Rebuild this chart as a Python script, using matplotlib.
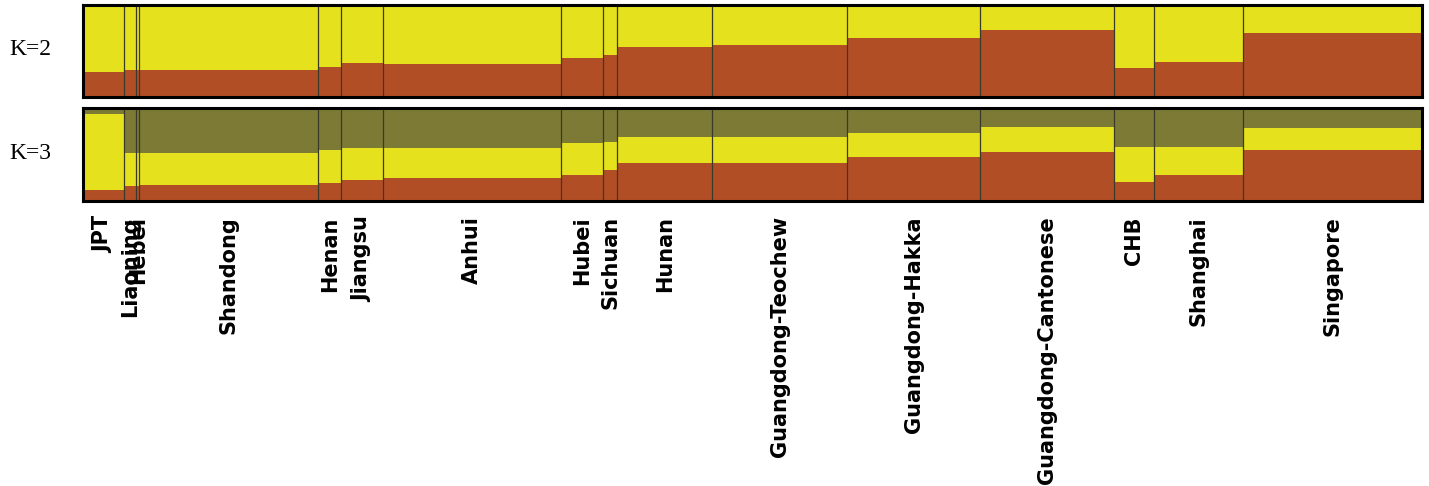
import matplotlib.pyplot as plt
import numpy as np

# populations, left to right, and their sample counts
pops = ["JPT", "Liaoning", "Hebei", "Shandong", "Henan", "Jiangsu", "Anhui",
        "Hubei", "Sichuan", "Hunan", "Guangdong-Teochew", "Guangdong-Hakka",
        "Guangdong-Cantonese", "CHB", "Shanghai", "Singapore"]
sizes = [103, 30, 8, 448, 58, 103, 448, 105, 35, 238, 338, 333, 335, 100, 223, 448]

# K=2: mean share of the red cluster per population (rest is yellow)
k2_red = [0.27, 0.29, 0.29, 0.29, 0.33, 0.37, 0.36, 0.42, 0.46, 0.54,
          0.57, 0.64, 0.73, 0.31, 0.38, 0.70]

# K=3: red, yellow, olive per population
k3_red = [0.12, 0.16, 0.16, 0.17, 0.19, 0.23, 0.25, 0.28, 0.33, 0.41,
          0.41, 0.47, 0.53, 0.20, 0.28, 0.55]
k3_yellow = [0.82, 0.36, 0.36, 0.35, 0.36, 0.34, 0.32, 0.34, 0.30, 0.28,
             0.28, 0.26, 0.27, 0.38, 0.30, 0.23]

RED = "#b14e26"
YELLOW = "#e5e21d"
OLIVE = "#7c7a35"

sizes = np.array(sizes)
edges = np.concatenate([[0], np.cumsum(sizes)])
lefts = edges[:-1]
centers = lefts + sizes / 2
total = edges[-1]

fig = plt.figure(figsize=(14.29, 4.86), dpi=100)
W, H = 1429, 486
x0, x1 = 83, 1422


def panel(top, bottom):
    return fig.add_axes([x0 / W, 1 - bottom / H, (x1 - x0) / W, (bottom - top) / H])


ax1 = panel(5, 97)
ax2 = panel(108, 201)

# K=2
k2_red = np.array(k2_red)
ax1.bar(lefts, k2_red, width=sizes, align='edge', color=RED, linewidth=0)
ax1.bar(lefts, 1 - k2_red, bottom=k2_red, width=sizes, align='edge', color=YELLOW, linewidth=0)

# K=3
k3_red = np.array(k3_red)
k3_yellow = np.array(k3_yellow)
k3_olive = 1 - k3_red - k3_yellow
ax2.bar(lefts, k3_red, width=sizes, align='edge', color=RED, linewidth=0)
ax2.bar(lefts, k3_yellow, bottom=k3_red, width=sizes, align='edge', color=YELLOW, linewidth=0)
ax2.bar(lefts, k3_olive, bottom=k3_red + k3_yellow, width=sizes, align='edge',
        color=OLIVE, linewidth=0)

for ax, lab in [(ax1, "K=2"), (ax2, "K=3")]:
    ax.set_xlim(0, total)
    ax.set_ylim(0, 1)
    ax.set_yticks([])
    for e in edges[1:-1]:
        ax.axvline(e, color="#3a3a2a", lw=0.9)
    for s in ax.spines.values():
        s.set_linewidth(2.2)
        s.set_color("black")
    ax.text(30 / W, ax.get_position().y0 + ax.get_position().height / 2 + 0.003, lab,
            transform=fig.transFigure, ha='center', va='center',
            fontsize=17, family='Liberation Serif')

ax1.set_xticks([])
ax2.set_xticks(centers)
ax2.set_xticklabels(pops, rotation=90, fontsize=15, fontweight='bold',
                    family='DejaVu Sans', va='top', ha='center')
ax2.tick_params(axis='x', length=0, pad=11)

fig.savefig("out.png", dpi=100)
